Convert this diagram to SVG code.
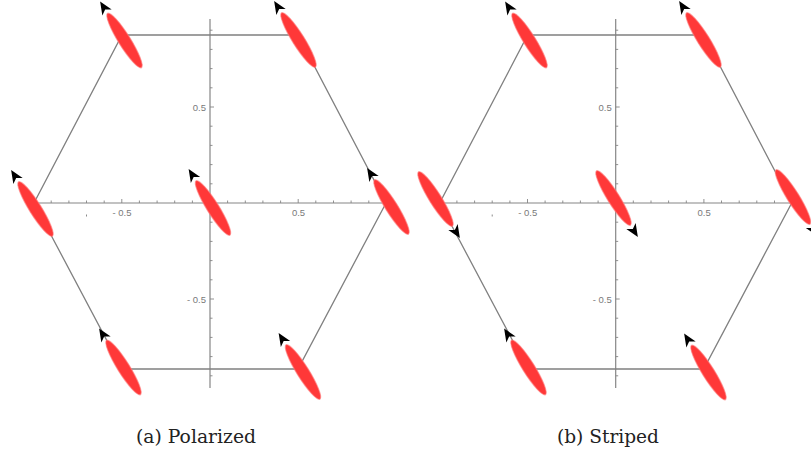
<svg xmlns="http://www.w3.org/2000/svg" xmlns:xlink="http://www.w3.org/1999/xlink" width="811" height="463" viewBox="0 0 811 463">
  <style>
    .axis { stroke: #858585; stroke-width: 1.2; fill: none; }
    .tick { stroke: #858585; stroke-width: 0.9; fill: none; }
    .lbl { font-family: "Liberation Sans", "DejaVu Sans", sans-serif; font-size: 9.5px; fill: #7a7a7a; }
    .edge { stroke: #808080; stroke-width: 1.3; fill: none; }
    .spin { fill: #ff3838; stroke: #ff7a7a; stroke-width: 1.2; stroke-opacity: 0.6; }
    .head { fill: #000000; }
    .cap { font-family: "DejaVu Serif", "Liberation Serif", serif; font-size: 19px; fill: #222222; }
  </style>
  <defs>
    <g id="axes">
      <line class="axis" x1="34" y1="203" x2="386" y2="203"/>
      <line class="axis" x1="210" y1="19" x2="210" y2="388"/>
      <path class="tick" d="M51.2,203v-2.5M68.9,203v-2.5M86.5,203v-2.5M104.2,203v-2.5M121.8,203v-4M139.4,203v-2.5M157.1,203v-2.5M174.7,203v-2.5M192.4,203v-2.5M227.6,203v-2.5M245.3,203v-2.5M262.9,203v-2.5M280.6,203v-2.5M298.2,203v-4M315.8,203v-2.5M333.5,203v-2.5M351.1,203v-2.5M368.8,203v-2.5"/>
      <path class="tick" d="M210,30.2h2.5M210,49.4h2.5M210,68.6h2.5M210,87.8h2.5M210,107h4M210,126.2h2.5M210,145.4h2.5M210,164.6h2.5M210,183.8h2.5M210,222.2h2.5M210,241.4h2.5M210,260.6h2.5M210,279.8h2.5M210,299h4M210,318.2h2.5M210,337.4h2.5M210,356.6h2.5M210,375.8h2.5"/>
      <rect x="86" y="214.5" width="1" height="2" fill="#8a8a8a"/>
      <text class="lbl" x="206" y="110.5" text-anchor="end">0.5</text>
      <text class="lbl" x="206" y="302.5" text-anchor="end">- 0.5</text>
      <text class="lbl" x="122" y="216" text-anchor="middle">- 0.5</text>
      <text class="lbl" x="298.5" y="216" text-anchor="middle">0.5</text>
    </g>
    <path id="up" class="head" d="M-46,0 L-33,-5.5 L-36.5,0 L-33,5.5 Z"/>
    <path id="down" class="head" d="M46,0 L33,-5.5 L36.5,0 L33,5.5 Z"/>
  </defs>

  <g id="axes-a"><use xlink:href="#axes" href="#axes"/></g>
  <g id="axes-b"><use xlink:href="#axes" href="#axes" transform="translate(405.7,0)"/></g>

  <g id="connectors">
    <polygon class="edge" points="122,35 298,35 386,203 298,369 122,369 34,203"/>
    <polygon class="edge" points="527.7,35 703.7,35 791.7,203 703.7,369 527.7,369 439.7,203"/>
  </g>

  <g id="a1" transform="translate(124.5,40.5) rotate(58)"><ellipse class="spin" rx="32" ry="6"/><use href="#up" xlink:href="#up"/></g>
  <g id="a2" transform="translate(298.5,40) rotate(58)"><ellipse class="spin" rx="32" ry="6"/><use href="#up" xlink:href="#up"/></g>
  <g id="a3" transform="translate(35.5,209) rotate(58)"><ellipse class="spin" rx="32" ry="6"/><use href="#up" xlink:href="#up"/></g>
  <g id="a4" transform="translate(213,208) rotate(58)"><ellipse class="spin" rx="32" ry="6"/><use href="#up" xlink:href="#up"/></g>
  <g id="a5" transform="translate(391.5,207) rotate(58)"><ellipse class="spin" rx="32" ry="6"/><use href="#up" xlink:href="#up"/></g>
  <g id="a6" transform="translate(123.5,367.5) rotate(58)"><ellipse class="spin" rx="32" ry="6"/><use href="#up" xlink:href="#up"/></g>
  <g id="a7" transform="translate(303,372) rotate(58)"><ellipse class="spin" rx="32" ry="6"/><use href="#up" xlink:href="#up"/></g>

  <g id="b1" transform="translate(529.5,40.5) rotate(58)"><ellipse class="spin" rx="32" ry="6"/><use href="#up" xlink:href="#up"/></g>
  <g id="b2" transform="translate(703.5,40) rotate(58)"><ellipse class="spin" rx="32" ry="6"/><use href="#up" xlink:href="#up"/></g>
  <g id="b3" transform="translate(435.5,199) rotate(58)"><ellipse class="spin" rx="32" ry="6"/><use href="#down" xlink:href="#down"/></g>
  <g id="b4" transform="translate(613.5,198) rotate(58)"><ellipse class="spin" rx="32" ry="6"/><use href="#down" xlink:href="#down"/></g>
  <g id="b5" transform="translate(793,197) rotate(58)"><ellipse class="spin" rx="32" ry="6"/><use href="#down" xlink:href="#down"/></g>
  <g id="b6" transform="translate(528.5,367.5) rotate(58)"><ellipse class="spin" rx="32" ry="6"/><use href="#up" xlink:href="#up"/></g>
  <g id="b7" transform="translate(708.5,372.5) rotate(58)"><ellipse class="spin" rx="32" ry="6"/><use href="#up" xlink:href="#up"/></g>

  <g id="captions">
    <text class="cap" x="136" y="443" textLength="120" lengthAdjust="spacingAndGlyphs">(a) Polarized</text>
    <text class="cap" x="557" y="443" textLength="102" lengthAdjust="spacingAndGlyphs">(b) Striped</text>
  </g>
</svg>
